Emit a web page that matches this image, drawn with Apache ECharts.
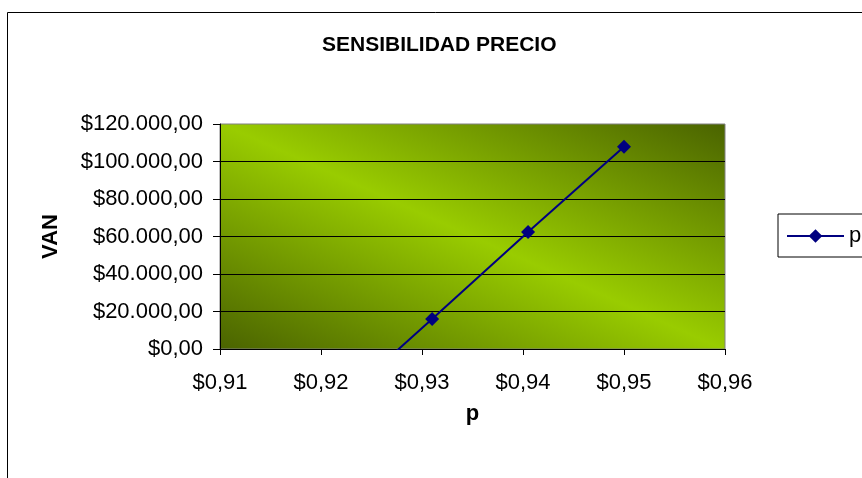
<!DOCTYPE html>
<html>
<head>
<meta charset="utf-8">
<script src="https://cdn.jsdelivr.net/npm/echarts@6/dist/echarts.min.js"></script>
<style>
  html, body { margin: 0; padding: 0; background: #fff; }
  #chart { width: 862px; height: 478px; }
</style>
</head>
<body>
<div id="chart"></div>
<script>
// Price sensitivity: net present value (VAN) against unit price p
const chartTitle = 'SENSIBILIDAD PRECIO';
const seriesName = 'p';
const priceP = [0.9215, 0.931, 0.9405, 0.95];
const vanValues = [-30000, 16000, 62400, 107900];
const xRange = [0.91, 0.96];
const xStep = 0.01;
const yRange = [0, 120000];
const yStep = 20000;

const FONT = '"Liberation Sans", Arial, sans-serif';

function fmtMoney(v, decimals) {
  const fixed = Math.abs(v).toFixed(decimals);
  const parts = fixed.split('.');
  const intPart = parts[0].replace(/\B(?=(\d{3})+(?!\d))/g, '.');
  return (v < 0 ? '-' : '') + '$' + intPart + ',' + parts[1];
}

const chart = echarts.init(document.getElementById('chart'), null, { renderer: 'canvas' });

chart.setOption({
  animation: false,
  backgroundColor: '#ffffff',
  title: {
    text: chartTitle,
    left: 322,
    top: 35,
    padding: 0,
    textStyle: { fontFamily: FONT, fontSize: 21, fontWeight: 'bold', color: '#000' }
  },
  legend: {
    data: [seriesName],
    orient: 'vertical',
    left: 778,
    top: 214,
    padding: [11, 40, 10, 8],
    borderColor: '#000',
    borderWidth: 1,
    itemWidth: 57,
    itemHeight: 17,
    textStyle: { fontFamily: FONT, fontSize: 22, color: '#000' }
  },
  graphic: [{
    type: 'rect',
    shape: { x: 7.5, y: 12.5, width: 900, height: 500 },
    style: { fill: 'none', stroke: '#000', lineWidth: 1 },
    silent: true,
    z: -10
  }],
  grid: {
    left: 220,
    top: 124,
    width: 505,
    height: 225,
    show: true,
    borderColor: '#808080',
    borderWidth: 1,
    backgroundColor: {
      type: 'linear',
      x: 0.333, y: 1.333, x2: 0.667, y2: -0.333,
      colorStops: [
        { offset: 0, color: '#4a6300' },
        { offset: 0.5, color: '#99cc00' },
        { offset: 1, color: '#4a6300' }
      ]
    }
  },
  xAxis: {
    type: 'value',
    min: xRange[0],
    max: xRange[1],
    interval: xStep,
    name: 'p',
    nameLocation: 'middle',
    nameGap: 54,
    nameTextStyle: { fontFamily: FONT, fontSize: 22, fontWeight: 'bold', color: '#000' },
    axisLine: { show: true, onZero: false, lineStyle: { color: '#000', width: 1 } },
    axisTick: { show: true, inside: false, length: 6, lineStyle: { color: '#000' } },
    axisLabel: {
      margin: 23,
      fontFamily: FONT, fontSize: 22, color: '#000',
      formatter: v => fmtMoney(v, 2)
    },
    splitLine: { show: false }
  },
  yAxis: {
    type: 'value',
    min: yRange[0],
    max: yRange[1],
    interval: yStep,
    name: 'VAN',
    nameLocation: 'middle',
    nameRotate: 90,
    nameGap: 158,
    nameTextStyle: { fontFamily: FONT, fontSize: 22, fontWeight: 'bold', color: '#000' },
    axisLine: { show: true, lineStyle: { color: '#000', width: 1 } },
    axisTick: { show: true, inside: false, length: 7, lineStyle: { color: '#000' } },
    axisLabel: {
      margin: 17,
      fontFamily: FONT, fontSize: 22, color: '#000',
      formatter: v => fmtMoney(v, 2)
    },
    splitLine: { show: true, showMaxLine: false, lineStyle: { color: '#000', width: 1 } }
  },
  series: [{
    name: seriesName,
    type: 'line',
    data: priceP.map((p, i) => [p, vanValues[i]]),
    clip: true,
    symbol: 'diamond',
    symbolSize: 14,
    showAllSymbol: true,
    lineStyle: { color: '#000080', width: 2 },
    itemStyle: { color: '#000080' },
    z: 5
  }]
});
</script>
</body>
</html>
